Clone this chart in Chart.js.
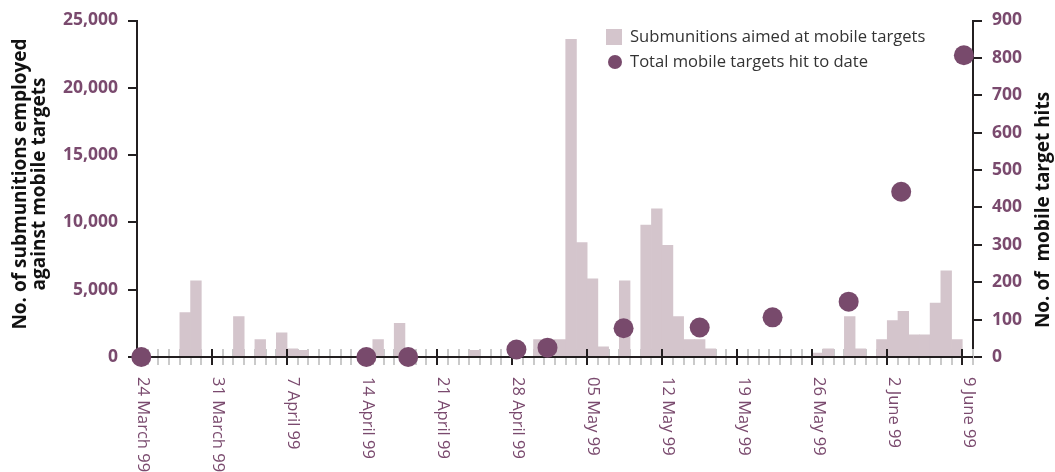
<!DOCTYPE html>
<html><head><meta charset="utf-8">
<script src="https://cdn.jsdelivr.net/npm/chart.js@4/dist/chart.umd.min.js"></script>
<style>html,body{margin:0;padding:0;background:#fff;} #wrap{width:1055px;height:472px;position:relative;}</style>
</head><body><div id="wrap"><canvas id="c" width="1055" height="472"></canvas></div>
<script>
// ---- data ----
const dayCount = 78; // 24 March 99 .. 9 June 99 (+1 bin)
const weekLabels = ['24 March 99','31 March 99','7 April 99','14 April 99','21 April 99','28 April 99','05 May 99','12 May 99','19 May 99','26 May 99','2 June 99','9 June 99'];
// submunitions per day (day 0 = 24 March 99)
const submunitions = [
  0,0,0,0,3300,5650,0,            // 24-30 Mar
  0,0,3000,0,1300,0,1800,         // 31 Mar - 6 Apr
  600,500,0,0,0,0,0,              // 7-13 Apr
  0,1300,0,2500,0,0,0,            // 14-20 Apr
  0,0,0,500,0,0,0,                // 21-27 Apr
  0,0,1300,1300,1300,23600,8500,  // 28 Apr - 4 May
  5800,750,0,5650,0,9800,11000,   // 5-11 May
  8300,3000,1300,1300,600,0,0,    // 12-18 May
  0,0,0,0,0,0,0,                  // 19-25 May
  300,600,0,3000,600,0,1300,      // 26 May - 1 Jun
  2700,3400,1650,1650,4000,6400,1300, // 2-8 Jun
  0                               // 9 Jun
];
const hitDays   = [0.4, 21.4, 25.3, 35.4, 38.3, 45.4, 52.5, 59.3, 66.4, 71.3, 77.15];
const hitTotals = [0, 0, 0, 20, 25, 77, 79, 106, 148, 442, 807];
const seriesNames = ['Submunitions aimed at mobile targets', 'Total mobile targets hit to date'];
const leftTitle = ['No. of submunitions employed', 'against mobile targets'];
const rightTitle = 'No. of  mobile target hits';

// ---- style ----
const BAR = '#d4c5cc', DOT = '#784a6c', PURPLE = '#7a4a6e', AXIS = '#231f20', MINOR = '#cacaca';
const FONT = '"Open Sans", "Noto Sans", sans-serif';

const barData = submunitions.map((v, d) => ({x: d + 0.5, y: v}));
const dotData = hitDays.map((d, i) => ({x: d, y: hitTotals[i]}));

const decor = {
  id: 'decor',
  beforeDatasetsDraw(chart) {
    const {ctx, scales: {x}, chartArea} = chart;
    const y0 = chartArea.bottom;
    ctx.save();
    ctx.strokeStyle = MINOR; ctx.lineWidth = 2;
    for (let d = 0; d <= dayCount; d++) {
      if (d % 7 === 0) continue;
      const px = Math.round(x.getPixelForValue(d));
      ctx.beginPath(); ctx.moveTo(px, y0 - 8); ctx.lineTo(px, y0 + 8); ctx.stroke();
    }
    ctx.restore();
  },
  afterDatasetDraw(chart, args) {
    if (args.index !== 0) return;
    const {ctx, scales: {x}, chartArea} = chart;
    const y0 = chartArea.bottom;
    ctx.save();
    ctx.strokeStyle = AXIS; ctx.lineWidth = 2;
    ctx.beginPath(); ctx.moveTo(chartArea.left, y0); ctx.lineTo(chartArea.right, y0); ctx.stroke();
    for (let i = 0; i < weekLabels.length; i++) {
      const px = Math.round(x.getPixelForValue(i * 7));
      ctx.beginPath(); ctx.moveTo(px, y0 - 8); ctx.lineTo(px, y0 + 8); ctx.stroke();
    }
    ctx.restore();
  },
  afterDraw(chart) {
    const {ctx, scales: {x}, chartArea} = chart;
    const y0 = chartArea.bottom;
    ctx.save();
    // x labels, rotated clockwise
    ctx.fillStyle = PURPLE; ctx.font = '16.5px ' + FONT;
    ctx.textAlign = 'left'; ctx.textBaseline = 'middle';
    weekLabels.forEach((lab, i) => {
      const px = x.getPixelForValue(i * 7);
      ctx.save(); ctx.translate(px + 6, y0 + 20); ctx.rotate(Math.PI / 2);
      ctx.fillText(lab, 0, 0); ctx.restore();
    });
    // axis titles
    ctx.fillStyle = '#111'; ctx.font = 'bold 19px ' + FONT; ctx.textAlign = 'center';
    [[21, leftTitle[0]], [40, leftTitle[1]]].forEach(([tx, t]) => {
      ctx.save(); ctx.translate(tx, 184); ctx.rotate(-Math.PI / 2); ctx.fillText(t, 0, 0); ctx.restore();
    });
    ctx.save(); ctx.translate(1044, 210); ctx.rotate(-Math.PI / 2); ctx.fillText(rightTitle, 0, 0); ctx.restore();
    // legend
    ctx.textAlign = 'left'; ctx.font = '16.6px ' + FONT; ctx.fillStyle = '#333';
    ctx.fillText(seriesNames[0], 630, 37);
    ctx.fillText(seriesNames[1], 630, 62);
    ctx.fillStyle = BAR; ctx.fillRect(606, 29, 16, 16);
    ctx.fillStyle = DOT; ctx.beginPath(); ctx.arc(615, 62, 7, 0, Math.PI * 2); ctx.fill();
    ctx.restore();
  }
};

new Chart(document.getElementById('c'), {
  type: 'bar',
  data: {
    datasets: [
      {type: 'bar', label: seriesNames[0], data: barData, backgroundColor: BAR, borderWidth: 0,
       barPercentage: 1, categoryPercentage: 1, yAxisID: 'y', order: 2},
      {type: 'scatter', label: seriesNames[1], data: dotData, backgroundColor: DOT, borderWidth: 0,
       pointRadius: 10, pointHoverRadius: 10, yAxisID: 'y2', order: 1, clip: false}
    ]
  },
  options: {
    responsive: false, animation: false, devicePixelRatio: 1,
    layout: {padding: {top: 20, left: 0, right: 0, bottom: 0}},
    plugins: {legend: {display: false}, tooltip: {enabled: false}},
    scales: {
      x: {type: 'linear', min: 0, max: dayCount, offset: false,
          ticks: {display: false}, grid: {display: false}, border: {display: false},
          afterFit: s => { s.height = 115; }},
      y: {position: 'left', min: 0, max: 25000,
          ticks: {stepSize: 5000, color: PURPLE, padding: 10, font: {family: FONT, size: 17.5, weight: 'bold'}},
          grid: {drawOnChartArea: false, drawTicks: true, tickLength: 9, color: AXIS, lineWidth: 2},
          border: {display: true, color: AXIS, width: 2},
          afterFit: s => { s.width = 137; }},
      y2: {position: 'right', min: 0, max: 900,
          ticks: {stepSize: 100, color: PURPLE, padding: 10, font: {family: FONT, size: 17.5, weight: 'bold'}},
          grid: {drawOnChartArea: false, drawTicks: true, tickLength: 9, color: AXIS, lineWidth: 2},
          border: {display: true, color: AXIS, width: 2},
          afterFit: s => { s.width = 82; }}
    }
  },
  plugins: [decor]
});
</script></body></html>
